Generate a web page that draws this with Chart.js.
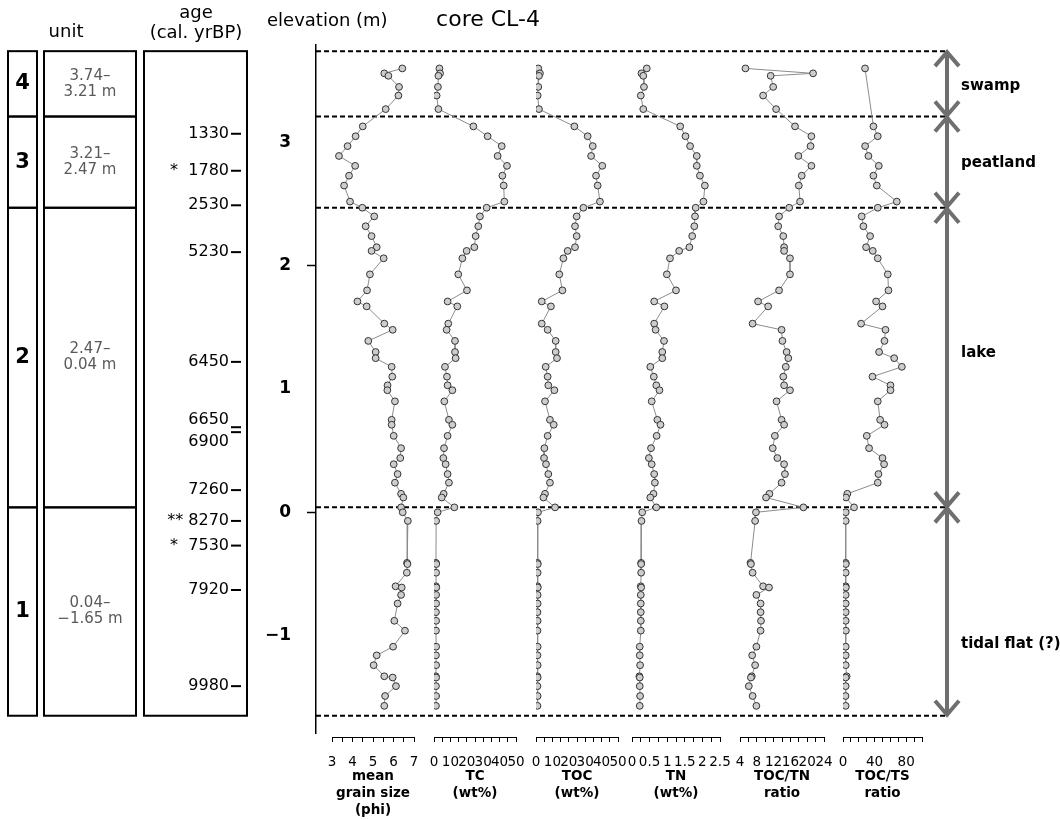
<!DOCTYPE html>
<html>
<head>
<meta charset="utf-8">
<title>core CL-4</title>
<script src="https://cdn.jsdelivr.net/npm/chart.js@4.4.1/dist/chart.umd.min.js"></script>
<style>
  body { margin: 0; background: #fff; }
  #wrap { position: relative; width: 1060px; height: 820px; }
  #wrap canvas { position: absolute; left: 0; top: 0; }
</style>
</head>
<body>
<div id="wrap">
  <canvas id="base" width="1060" height="820"></canvas>
  <canvas id="p0" width="1060" height="820"></canvas>
  <canvas id="p1" width="1060" height="820"></canvas>
  <canvas id="p2" width="1060" height="820"></canvas>
  <canvas id="p3" width="1060" height="820"></canvas>
  <canvas id="p4" width="1060" height="820"></canvas>
  <canvas id="p5" width="1060" height="820"></canvas>
</div>
<script>
// sample elevations (m), top to bottom
const elevation = [3.60, 3.56, 3.54, 3.45, 3.38, 3.27,
  3.13, 3.05, 2.97, 2.89, 2.81, 2.73, 2.65, 2.52,
  2.47,
  2.40, 2.32, 2.24, 2.15, 2.12, 2.06, 1.93, 1.80, 1.71, 1.67,
  1.53, 1.48, 1.39, 1.30, 1.25, 1.18, 1.10, 1.03, 0.99, 0.90,
  0.75, 0.71, 0.62, 0.52, 0.44, 0.39, 0.31, 0.24, 0.15, 0.12,
  0.04,
  0.00, -0.07, -0.41, -0.42, -0.49, -0.60, -0.61, -0.67, -0.74, -0.81,
  -0.88, -0.96, -1.09, -1.16, -1.24, -1.33, -1.34, -1.41, -1.49, -1.57];

const grainSize = [6.43, 5.55, 5.75, 6.27, 6.24, 5.62,
  4.50, 4.15, 3.76, 3.34, 4.13, 3.83, 3.59, 3.88,
  4.48,
  5.06, 4.64, 4.93, 5.18, 4.93, 5.52, 4.85, 4.71, 4.24, 4.69,
  5.55, 5.96, 4.77, 5.13, 5.13, 5.91, 5.94, 5.71, 5.70, 6.07,
  5.91, 5.91, 6.01, 6.37, 6.33, 6.01, 6.20, 6.07, 6.37, 6.48,
  6.37,
  6.45, 6.70, 6.66, 6.68, 6.65, 6.10, 6.40, 6.37, 6.20, null,
  6.04, 6.56, 5.98, 5.18, 5.03, 5.55, 5.96, 6.12, 5.59, 5.55];

const totalCarbon = [3.3, 3.7, 2.7, 2.4, 1.6, 2.7,
  24.0, 32.7, 41.3, 38.8, 44.5, 41.7, 42.5, 42.9,
  32.1,
  28.0, 27.0, 25.4, 24.6, 19.9, 17.3, 14.8, 20.1, 8.3, 14.2,
  8.7, 7.7, 12.8, 12.8, 13.2, 6.7, 7.9, 8.3, 11.2, 6.3,
  9.1, 11.2, 8.3, 6.1, 5.7, 7.1, 8.3, 9.1, 5.9, 4.7,
  12.4,
  2.2, 1.3, 1.2, 1.4, 1.3, 1.2, 1.4, 1.3, 1.3, 1.2,
  1.3, 1.2, 1.3, 1.2, 1.3, 1.1, 1.3, 1.2, 1.3, 1.2];

const totalOrganicCarbon = [1.4, 2.4, 1.8, 1.4, 1.0, 1.8,
  23.4, 31.5, 34.6, 33.6, 40.4, 36.6, 37.6, 39.0,
  28.9,
  24.8, 23.8, 24.8, 23.8, 19.3, 16.7, 14.2, 16.1, 3.5, 9.1,
  3.5, 7.1, 12.0, 12.0, 12.8, 5.9, 7.1, 7.5, 11.2, 5.5,
  8.5, 10.8, 7.1, 5.1, 4.9, 6.1, 7.5, 8.5, 5.5, 4.5,
  11.6,
  1.2, 1.0, 0.9, 1.1, 1.0, 0.9, 1.1, 1.0, 1.0, 0.9,
  1.0, 0.9, 1.0, 0.9, 1.0, 0.8, 1.0, 0.9, 1.0, 0.9];

const totalNitrogen = [0.42, 0.27, 0.32, 0.34, 0.25, 0.32,
  1.37, 1.52, 1.65, 1.84, 1.84, 1.93, 2.07, 2.03,
  1.81,
  1.79, 1.77, 1.71, 1.63, 1.34, 1.08, 0.99, 1.25, 0.63, 0.92,
  0.63, 0.67, 0.91, 0.86, 0.86, 0.52, 0.62, 0.69, 0.78, 0.56,
  0.72, 0.81, 0.70, 0.54, 0.48, 0.56, 0.63, 0.65, 0.61, 0.52,
  0.69,
  0.29, 0.27, 0.26, 0.26, 0.26, 0.25, 0.26, 0.25, 0.25, 0.25,
  0.25, 0.25, 0.22, 0.22, 0.23, 0.21, 0.22, 0.22, 0.23, 0.22];

const tocTnRatio = [5.3, 21.4, 11.3, 11.9, 9.5, 12.6,
  17.1, 21.0, 20.8, 17.9, 21.0, 18.7, 18.0, 18.3,
  15.7,
  13.3, 13.1, 14.3, 14.5, 14.5, 15.9, 15.9, 13.3, 8.3, 10.7,
  7.0, 13.9, 14.1, 15.1, 15.5, 14.9, 14.3, 14.5, 15.9, 12.7,
  13.9, 14.5, 12.3, 11.8, 12.9, 14.5, 14.7, 13.9, 11.0, 10.2,
  19.1,
  7.8, 7.6, 6.5, 6.6, 7.0, 9.5, 10.9, 7.9, 8.9, 8.9,
  9.0, 8.9, 7.9, 6.9, 7.6, 6.8, 6.6, 6.1, 7.0, 7.9];

const tocTsRatio = [27.9, null, null, null, null, null,
  38.5, 44.0, 28.0, 32.2, 45.3, 38.5, 42.8, 68.1,
  44.0,
  23.7, 25.8, 34.3, 29.2, 37.7, 44.0, 56.7, 57.6, 41.9, 50.0,
  22.9, 53.8, 52.5, 45.7, 64.8, 74.5, 37.3, 60.1, 60.1, 44.0,
  47.0, 52.5, 30.1, 33.0, 50.0, 52.0, 44.9, 44.0, 5.5, 3.8,
  14.0,
  3.4, 3.4, 3.4, 3.6, 3.4, 3.4, 3.6, 3.4, 3.4, 3.4,
  3.4, 3.6, 3.4, 3.4, 3.4, 4.6, 3.4, 3.4, 3.2, 3.4];

// unit boundaries (m) and what lies between them
const boundaries = [3.74, 3.21, 2.47, 0.04, -1.65];
const units = ['4', '3', '2', '1'];
const environments = ['swamp', 'peatland', 'lake', 'tidal flat (?)'];

// radiocarbon ages
const ageLabels = ['1330', '*  1780', '2530', '5230', '6450', '6650', '6900', '7260', '** 8270', '*  7530', '7920', '9980'];
const ageElevation = [3.07, 2.77, 2.49, 2.11, 1.22, 0.69, 0.65, 0.18, -0.07, -0.27, -0.63, -1.41];

// tick labels
const elevationTicks = [-1, 0, 1, 2, 3];
const grainTicks = [3, 4, 5, 6, 7];
const carbonTicks = [0, 10, 20, 30, 40, 50];
const nitrogenTicks = [0, 0.5, 1, 1.5, 2, 2.5];
const tocTnTicks = [4, 8, 12, 16, 20, 24];
const tocTsTicks = [0, 40, 80];

Chart.defaults.font.family = "'DejaVu Sans', sans-serif";
Chart.defaults.color = '#000';
Chart.defaults.animation = false;

const yMax = 3.79, yMin = -1.79;
const AREA_TOP = 45, BASE_BOTTOM = 733, PANEL_BOTTOM = 737;
const pxPerM = (BASE_BOTTOM - AREA_TOP) / (yMax - yMin);
const panelYMin = yMax - (PANEL_BOTTOM - AREA_TOP) / pxPerM;

const fmt = v => (v < 0 ? '\u2212' : '') + Math.abs(v).toFixed(2);

// left columns, headers, right-hand arrows
const decorPlugin = {
  id: 'decor',
  afterDraw(chart) {
    const { ctx, chartArea, scales: { y } } = chart;
    const py = v => y.getPixelForValue(v);
    ctx.save();
    ctx.fillStyle = '#000';
    ctx.textAlign = 'center';
    ctx.textBaseline = 'middle';
    ctx.font = "18px 'DejaVu Sans'";
    ctx.fillText('unit', 66, 32);
    ctx.fillText('age', 196, 13);
    ctx.fillText('(cal. yrBP)', 196, 33);
    ctx.textAlign = 'left';
    ctx.fillText('elevation (m)', 267, 21);
    ctx.textAlign = 'center';
    ctx.font = "22px 'DejaVu Sans'";
    ctx.fillText('core CL-4', 488, 20);

    // unit boxes
    ctx.strokeStyle = '#000';
    ctx.lineWidth = 2;
    units.forEach((u, i) => {
      const t = py(boundaries[i]), b = py(boundaries[i + 1]);
      const m = (t + b) / 2;
      ctx.strokeRect(8, t, 29, b - t);
      ctx.strokeRect(44, t, 92, b - t);
      ctx.fillStyle = '#000';
      ctx.font = "bold 21px 'DejaVu Sans'";
      ctx.fillText(u, 22.5, m);
      ctx.fillStyle = '#5a5a5a';
      ctx.font = "15px 'DejaVu Sans'";
      ctx.fillText(fmt(boundaries[i]) + '\u2013', 90, m - 8);
      ctx.fillText(fmt(boundaries[i + 1]) + ' m', 90, m + 8);
    });
    const top = py(boundaries[0]), bot = py(boundaries[boundaries.length - 1]);
    ctx.strokeRect(144, top, 103, bot - top);

    // ages
    ctx.fillStyle = '#000';
    ctx.textAlign = 'right';
    ctx.font = "16px 'DejaVu Sans'";
    ctx.lineWidth = 2;
    const agePx = ageElevation.map(py);
    agePx.forEach((p, i) => {
      ctx.beginPath();
      ctx.moveTo(231, p);
      ctx.lineTo(241, p);
      ctx.stroke();
      let ly = p;
      if (i > 0 && p - agePx[i - 1] < 12) ly = p + 10;
      if (i < agePx.length - 1 && agePx[i + 1] - p < 12) ly = p - 7;
      ctx.fillText(ageLabels[i], 229, ly);
    });

    // environment arrows
    const ax = chartArea.right + 2;
    const labelShift = [2, 1, -4, 33];
    ctx.strokeStyle = '#6f6f6f';
    ctx.lineWidth = 4;
    ctx.textAlign = 'left';
    ctx.font = "bold 15px 'DejaVu Sans'";
    environments.forEach((env, i) => {
      const t = py(boundaries[i]), b = py(boundaries[i + 1]);
      ctx.beginPath();
      ctx.moveTo(ax, t); ctx.lineTo(ax, b);
      ctx.stroke();
      ctx.beginPath();
      ctx.moveTo(ax - 12, t + 15); ctx.lineTo(ax, t + 1); ctx.lineTo(ax + 12, t + 15);
      ctx.stroke();
      ctx.beginPath();
      ctx.moveTo(ax - 12, b - 15); ctx.lineTo(ax, b - 1); ctx.lineTo(ax + 12, b - 15);
      ctx.stroke();
      ctx.fillStyle = '#000';
      ctx.fillText(env, 961, (t + b) / 2 + labelShift[i]);
    });
    ctx.restore();
  }
};

new Chart(document.getElementById('base'), {
  type: 'scatter',
  data: {
    datasets: boundaries.map(b => ({
      data: [{ x: 0, y: b }, { x: 1, y: b }],
      showLine: true,
      borderColor: '#000',
      borderWidth: 2,
      borderDash: [5, 3],
      pointRadius: 0
    }))
  },
  options: {
    responsive: false,
    layout: { padding: { left: 250, right: 115, top: AREA_TOP, bottom: 820 - BASE_BOTTOM } },
    plugins: { legend: { display: false }, tooltip: { enabled: false } },
    scales: {
      x: { display: false, min: 0, max: 1 },
      y: {
        min: yMin, max: yMax,
        afterFit: s => { s.width = 66; },
        afterBuildTicks: s => { s.ticks = elevationTicks.map(v => ({ value: v })); },
        ticks: {
          padding: 16,
          font: { size: 17, weight: 'bold' },
          color: '#000',
          callback: v => (v < 0 ? '\u2212' + Math.abs(v) : String(v))
        },
        grid: {
          drawOnChartArea: false,
          tickLength: 9,
          tickWidth: 1.5,
          tickColor: c => (c.tick && (c.tick.value === 0 || c.tick.value === 2)) ? '#000' : 'rgba(0,0,0,0)'
        },
        border: { color: '#000', width: 1.5 }
      }
    }
  },
  plugins: [decorPlugin]
});

const panels = [
  { id: 'p0', values: grainSize, min: 3, max: 7, step: 0.5, labels: grainTicks, title: ['mean', 'grain size', '(phi)'], left: 332, right: 414 },
  { id: 'p1', values: totalCarbon, min: 0, max: 50, step: 5, labels: carbonTicks, title: ['TC', '(wt%)'], left: 434, right: 516 },
  { id: 'p2', values: totalOrganicCarbon, min: 0, max: 50, step: 5, labels: carbonTicks, title: ['TOC', '(wt%)'], left: 536, right: 618 },
  { id: 'p3', values: totalNitrogen, min: 0, max: 2.5, step: 0.25, labels: nitrogenTicks, title: ['TN', '(wt%)'], left: 632, right: 720 },
  { id: 'p4', values: tocTnRatio, min: 4, max: 24, step: 2, labels: tocTnTicks, title: ['TOC/TN', 'ratio'], left: 740, right: 824 },
  { id: 'p5', values: tocTsRatio, min: 0, max: 100, step: 10, labels: tocTsTicks, title: ['TOC/TS', 'ratio'], left: 843, right: 922 }
];

panels.forEach(p => {
  new Chart(document.getElementById(p.id), {
    type: 'scatter',
    data: {
      datasets: [{
        data: elevation.map((e, i) => ({ x: p.values[i], y: e })).filter(d => d.x !== null),
        showLine: true,
        borderColor: '#8c8c8c',
        borderWidth: 1,
        pointRadius: 3.4,
        pointBackgroundColor: '#cdcdcd',
        pointBorderColor: '#333',
        pointBorderWidth: 1
      }]
    },
    options: {
      responsive: false,
      layout: { padding: { left: p.left, right: 1060 - p.right, top: AREA_TOP, bottom: 0 } },
      plugins: { legend: { display: false }, tooltip: { enabled: false } },
      scales: {
        x: {
          type: 'linear', min: p.min, max: p.max, position: 'bottom',
          afterFit: s => { s.height = 820 - PANEL_BOTTOM; },
          ticks: {
            stepSize: p.step, autoSkip: false, maxRotation: 0, padding: 12,
            font: { size: 13.5 }, color: '#000',
            callback: v => p.labels.some(l => Math.abs(l - v) < 1e-6) ? String(+v.toFixed(2)) : ''
          },
          grid: { drawOnChartArea: false, tickLength: 5, tickColor: '#000', tickWidth: 1 },
          border: { color: '#000', width: 1 },
          title: {
            display: true, text: p.title, color: '#000',
            font: { size: 13.5, weight: 'bold', lineHeight: 1.24 },
            padding: { top: 0, bottom: 1.5 + (3 - p.title.length) * 16.7 }
          }
        },
        y: { display: false, min: panelYMin, max: yMax }
      }
    }
  });
});
</script>
</body>
</html>
